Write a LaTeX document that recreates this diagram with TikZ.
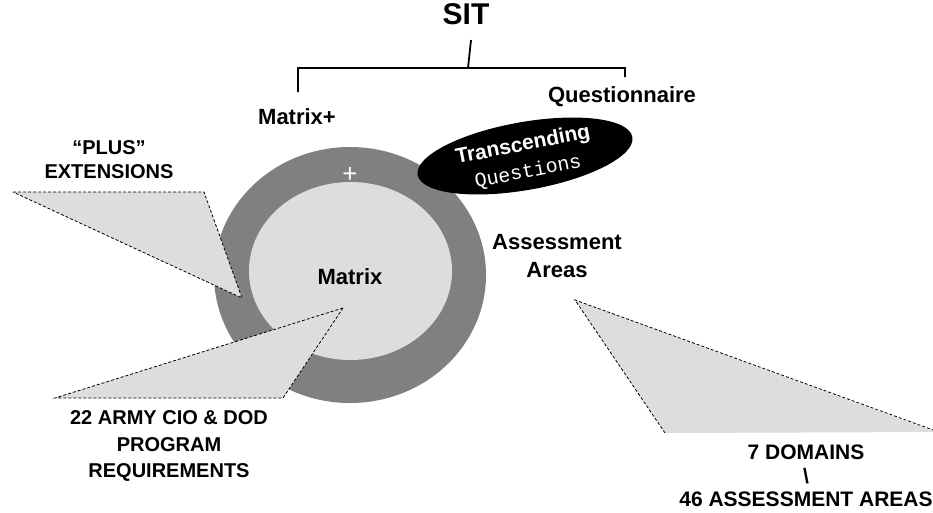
\documentclass[tikz,border=0pt]{standalone}
\usepackage{fontspec}
\setmainfont{Liberation Sans}
\newfontfamily\qfont{Liberation Mono}
\usepackage{tikz}
\usetikzlibrary{shapes.geometric}
\definecolor{ringgray}{HTML}{808080}
\definecolor{coregray}{HTML}{DDDDDD}
\tikzset{
  lbl/.style={font=\bfseries\fontsize{22}{28}\selectfont,align=center},
  cap/.style={font=\bfseries\fontsize{20}{#1}\selectfont,align=center},
  wedge/.style={fill=coregray,draw=black,line width=0.8pt,dash pattern=on 3pt off 2pt},
  brace/.style={line width=1.8pt}
}

\begin{document}
\begin{tikzpicture}[x=1pt,y=-1pt]
    \useasboundingbox (0,0) rectangle (933,512);
    \fill[ringgray] (350,275) ellipse [x radius=136,y radius=128];
    \fill[coregray] (350.5,271) ellipse [x radius=101.5,y radius=89];
    \filldraw[wedge] (13,192) -- (204,192) -- (242,298) -- cycle;
    \filldraw[wedge] (343,308) -- (55,398) -- (283,398) -- cycle;
    \fill[coregray] (575,300) -- (665,433) -- (936,432) -- cycle;
    \draw[wedge,fill=none] (665,433) -- (575,300) -- (936,431);
    \node[ellipse,fill=black,inner sep=0pt,minimum width=218pt,minimum height=68pt,rotate=10] (TQ) at (525,156) {};
    \node[font=\bfseries\fontsize{21}{27}\selectfont,text=white,align=center,rotate=11] (T) at (525.5,158.5) {Transcending\\{\qfont\mdseries\fontsize{20}{27}\selectfont Questions}};
    \node[font=\fontsize{26}{26}\selectfont,text=white] (P) at (350,175) {+};
    \node[font=\bfseries\fontsize{30}{30}\selectfont] (SIT) at (466,14) {SIT};
    \node[lbl] (MP) at (297,117) {Matrix+};
    \node[lbl] (QN) at (622,97) {Questionnaire};
    \node[lbl] (M) at (350,277) {Matrix};
    \node[lbl] (AA) at (557,256) {Assessment\\Areas};
    \node[cap=24] (PX) at (109,160) {``PLUS''\\EXTENSIONS};
    \node[cap=26.5] (REQ) at (169,446) {22 ARMY CIO \& DOD\\PROGRAM\\REQUIREMENTS};
    \node[font=\bfseries\fontsize{21}{23.5}\selectfont,align=center] (DOM) at (806,476) {7 DOMAINS\\\textbackslash\\46 ASSESSMENT AREAS};
    \coordinate (ST) at (471,40);
    \coordinate (SB) at (468,68);
    \coordinate (BL) at (298,68);
    \coordinate (BR) at (625,68);
    \coordinate (LL) at (298,92);
    \coordinate (LR) at (625,77);
    \draw[brace] (ST) -- (SB) (LL) -- (BL) -- (BR) -- (LR);
\end{tikzpicture}
\end{document}
